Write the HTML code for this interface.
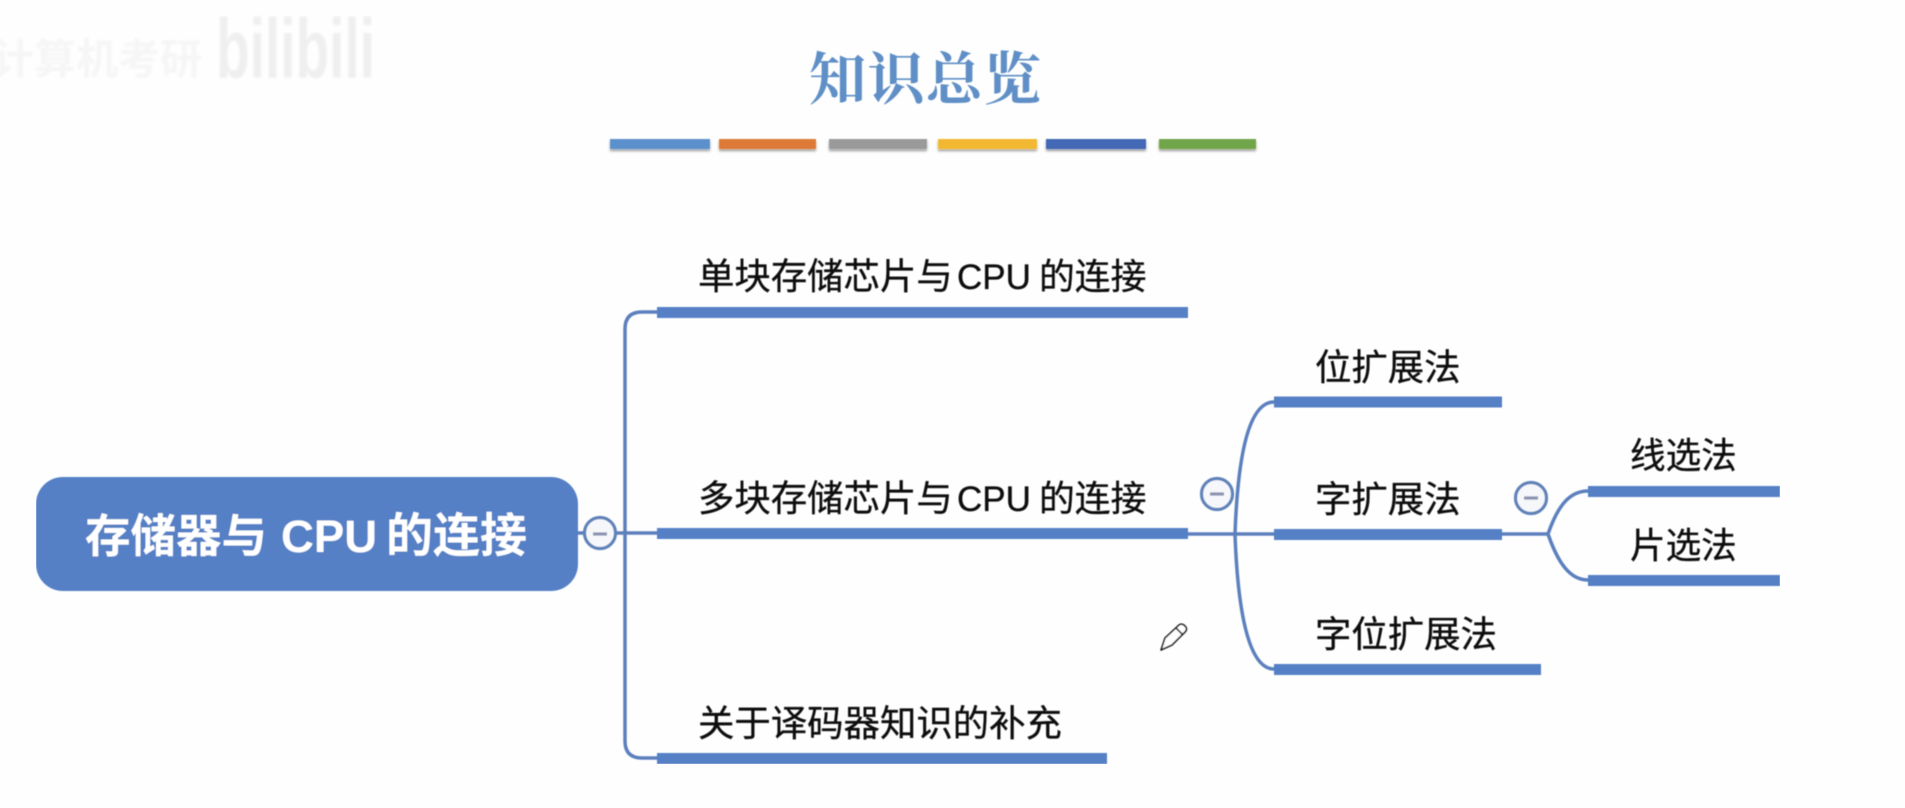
<!DOCTYPE html>
<html lang="zh">
<head>
<meta charset="utf-8">
<title>知识总览</title>
<style>
html,body{margin:0;padding:0;width:1905px;height:808px;background:#fefefe;overflow:hidden}
svg{display:block}
text{font-family:"Liberation Sans","Noto Sans CJK SC",sans-serif;font-size:36.4px;fill:#111;stroke:#111;stroke-width:.35}
</style>
</head>
<body>
<svg xmlns="http://www.w3.org/2000/svg" width="1905" height="808" viewBox="0 0 1905 808">
<defs>
<filter id="s" x="-5%" y="-30%" width="110%" height="180%"><feDropShadow dx="0" dy="2" stdDeviation="1.4" flood-color="#000" flood-opacity=".4"/></filter>
<filter id="b" x="-5%" y="-5%" width="110%" height="110%"><feGaussianBlur stdDeviation="1"/></filter>
<filter id="soft" x="0" y="0" width="100%" height="100%"><feGaussianBlur stdDeviation=".45"/></filter>
</defs>
<rect width="1905" height="808" fill="#fefefe"/>

<!-- watermark -->
<g filter="url(#b)">
<text x="-8" y="74" style="font-size:42px;fill:#f6f6f6;stroke:none;font-weight:700">计算机考研</text>
<text x="216" y="78" textLength="159" lengthAdjust="spacingAndGlyphs" style="font-size:84px;fill:#efefef;stroke:none;font-weight:700">bilibili</text>
</g>

<g filter="url(#soft)">
<!-- title -->
<text x="809" y="99" textLength="232" style="font-family:'Noto Serif CJK SC','Noto Sans CJK SC',serif;font-size:57px;fill:#5F8FC6;stroke:none;font-weight:700">知识总览</text>

<!-- colour bars -->
<g filter="url(#s)">
<rect x="610" y="139" width="100" height="10" fill="#5B90CC"/>
<rect x="719" y="139" width="97" height="10" fill="#DE7A38"/>
<rect x="829" y="139" width="98" height="10" fill="#9A9A9A"/>
<rect x="938" y="139" width="99" height="10" fill="#F2B833"/>
<rect x="1046" y="139" width="100" height="10" fill="#4268B6"/>
<rect x="1159" y="139" width="97" height="10" fill="#6FA548"/>
</g>

<!-- connectors -->
<g fill="none" stroke="#5C80BE" stroke-width="3.5">
<path d="M578 533H657"/>
<path d="M657 312H642Q625 312 625 329V741Q625 758 642 758H657"/>
<path d="M1188 534H1274"/>
<path d="M1274 402C1250 402 1238 450 1235 534C1238 618 1250 669 1274 669"/>
<path d="M1502 534H1548"/>
<path d="M1588 491C1570 491 1558 505 1548 534C1558 563 1570 580 1588 580"/>
</g>

<!-- bars -->
<g fill="#5580C6">
<rect x="657" y="307" width="531" height="11"/>
<rect x="657" y="528" width="531" height="11"/>
<rect x="657" y="753" width="450" height="11"/>
<rect x="1274" y="396.5" width="228" height="11"/>
<rect x="1274" y="529" width="228" height="11"/>
<rect x="1274" y="664" width="267" height="11"/>
<rect x="1588" y="486" width="192" height="11"/>
<rect x="1588" y="575" width="192" height="11"/>
</g>

<!-- root -->
<rect x="36" y="477" width="542" height="114" rx="27" fill="#5580C6"/>
<text y="552" style="font-size:45.5px;fill:#fff;stroke:none;font-weight:700"><tspan x="85">存储器与</tspan><tspan x="281">CPU</tspan><tspan x="386" style="font-size:47px">的连接</tspan></text>

<!-- toggles -->
<g fill="#F6F7FB" stroke="#5F82BA" stroke-width="3.2">
<circle cx="600" cy="533" r="15.5"/>
<circle cx="1217" cy="494" r="15.5"/>
<circle cx="1531" cy="498" r="15.5"/>
</g>
<g stroke="#8A93B0" stroke-width="3.2">
<path d="M593 534H607"/>
<path d="M1210 494H1224"/>
<path d="M1524 498H1538"/>
</g>

<!-- labels -->
<text y="289"><tspan x="698">单块存储芯片与</tspan><tspan x="957" style="font-size:35px">CPU</tspan><tspan x="1039" style="font-size:35.8px">的连接</tspan></text>
<text y="511"><tspan x="698">多块存储芯片与</tspan><tspan x="957" style="font-size:35px">CPU</tspan><tspan x="1039" style="font-size:35.8px">的连接</tspan></text>
<text x="698" y="736">关于译码器知识的补充</text>
<text x="1315" y="380">位扩展法</text>
<text x="1315" y="512">字扩展法</text>
<text x="1315" y="647">字位扩展法</text>
<text x="1630" y="468" style="font-size:35.6px">线选法</text>
<text x="1630" y="558" style="font-size:35.6px">片选法</text>

<!-- pencil -->
<g fill="#fff" stroke="#222" stroke-width="1.6" stroke-linejoin="round">
<path d="M1161 650L1165 638L1179 625Q1182 623 1185 626Q1188 629 1185 632L1172 645Z"/>
<path d="M1176 628L1183 635" fill="none"/>
</g>
</g>
</svg>
</body>
</html>
